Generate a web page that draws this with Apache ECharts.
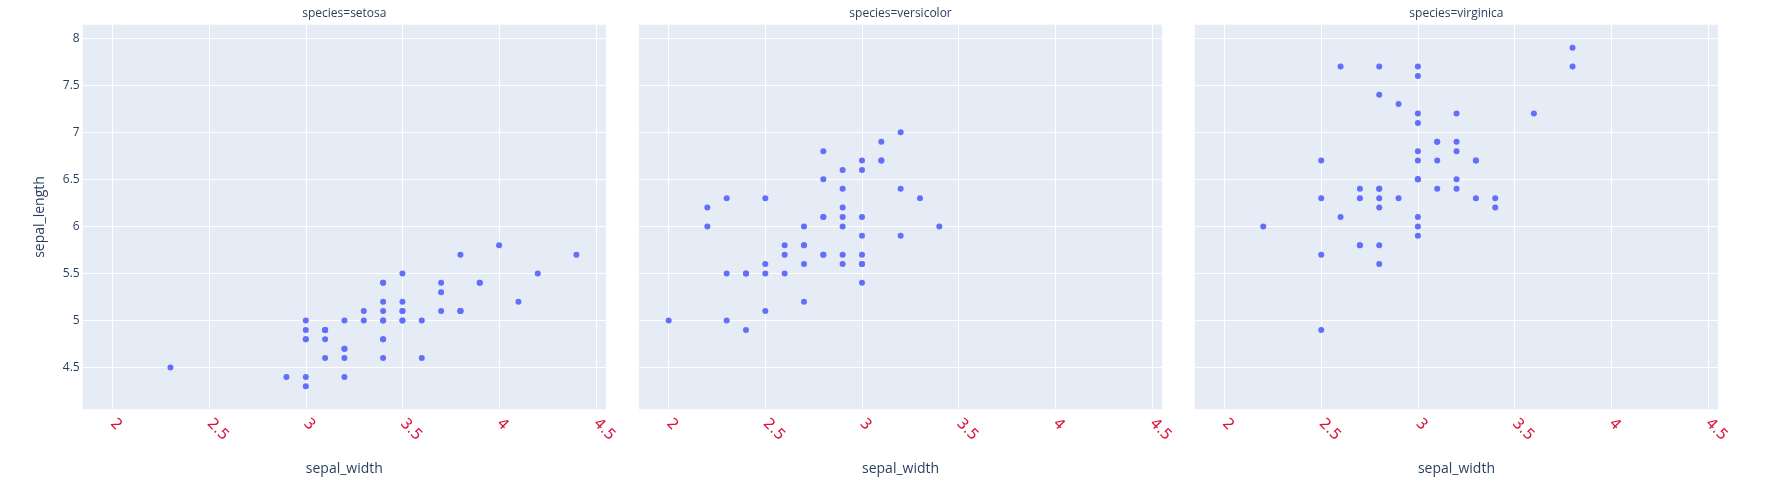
<!DOCTYPE html>
<html>
<head>
<meta charset="utf-8">
<script src="https://cdn.jsdelivr.net/npm/echarts@6/dist/echarts.min.js"></script>
<style>
html,body{margin:0;padding:0;background:#fff;}
#chart{width:1771px;height:494px;}
</style>
</head>
<body>
<div id="chart"></div>
<script>
const panelTitles = ["species=setosa", "species=versicolor", "species=virginica"];
const xTicks = [2, 2.5, 3, 3.5, 4, 4.5];
const yTicks = [4.5, 5, 5.5, 6, 6.5, 7, 7.5, 8];

const setosaWidth = [3.5,3.0,3.2,3.1,3.6,3.9,3.4,3.4,2.9,3.1,3.7,3.4,3.0,3.0,4.0,4.4,3.9,3.5,3.8,3.8,3.4,3.7,3.6,3.3,3.4,3.0,3.4,3.5,3.4,3.2,3.1,3.4,4.1,4.2,3.1,3.2,3.5,3.1,3.0,3.4,3.5,2.3,3.2,3.5,3.8,3.0,3.8,3.2,3.7,3.3];
const setosaLength = [5.1,4.9,4.7,4.6,5.0,5.4,4.6,5.0,4.4,4.9,5.4,4.8,4.8,4.3,5.8,5.7,5.4,5.1,5.7,5.1,5.4,5.1,4.6,5.1,4.8,5.0,5.0,5.2,5.2,4.7,4.8,5.4,5.2,5.5,4.9,5.0,5.5,4.9,4.4,5.1,5.0,4.5,4.4,5.0,5.1,4.8,5.1,4.6,5.3,5.0];

const versicolorWidth = [3.2,3.2,3.1,2.3,2.8,2.8,3.3,2.4,2.9,2.7,2.0,3.0,2.2,2.9,2.9,3.1,3.0,2.7,2.2,2.5,3.2,2.8,2.5,2.8,2.9,3.0,2.8,3.0,2.9,2.6,2.4,2.4,2.7,2.7,3.0,3.4,3.1,2.3,3.0,2.5,2.6,3.0,2.6,2.3,2.7,3.0,2.9,2.9,2.5,2.8];
const versicolorLength = [7.0,6.4,6.9,5.5,6.5,5.7,6.3,4.9,6.6,5.2,5.0,5.9,6.0,6.1,5.6,6.7,5.6,5.8,6.2,5.6,5.9,6.1,6.3,6.1,6.4,6.6,6.8,6.7,6.0,5.7,5.5,5.5,5.8,6.0,5.4,6.0,6.7,6.3,5.6,5.5,5.5,6.1,5.8,5.0,5.6,5.7,5.7,6.2,5.1,5.7];

const virginicaWidth = [3.3,2.7,3.0,2.9,3.0,3.0,2.5,2.9,2.5,3.6,3.2,2.7,3.0,2.5,2.8,3.2,3.0,3.8,2.6,2.2,3.2,2.8,2.8,2.7,3.3,3.2,2.8,3.0,2.8,3.0,2.8,3.8,2.8,2.8,2.6,3.0,3.4,3.1,3.0,3.1,3.1,3.1,2.7,3.2,3.3,3.0,2.5,3.0,3.4,3.0];
const virginicaLength = [6.3,5.8,7.1,6.3,6.5,7.6,4.9,7.3,6.7,7.2,6.5,6.4,6.8,5.7,5.8,6.4,6.5,7.7,7.7,6.0,6.9,5.6,7.7,6.3,6.7,7.2,6.2,6.1,6.4,7.2,7.4,7.9,6.4,6.3,6.1,7.7,6.3,6.4,6.0,6.9,6.7,6.9,5.8,6.8,6.7,6.7,6.3,6.5,6.2,5.9];

const xRange = [1.846, 4.553];
const yRange = [4.056, 8.144];

const widths = [setosaWidth, versicolorWidth, virginicaWidth];
const lengths = [setosaLength, versicolorLength, virginicaLength];

const FONT = '"Open Sans", verdana, arial, sans-serif';
const TXT = '#2a3f5f';
const panelLefts = [82.7, 638.9, 1194.8];
const panelW = 523.3;
const plotTop = 24.7, plotH = 384.6;

const grids = [], xAxes = [], yAxes = [], series = [], titles = [];
for (let i = 0; i < 3; i++) {
  grids.push({left: panelLefts[i], top: plotTop, width: panelW, height: plotH,
    show: true, backgroundColor: '#E5ECF6', borderWidth: 0, containLabel: false});
  titles.push({text: panelTitles[i], left: panelLefts[i] + panelW / 2, top: 8, textAlign: 'center', padding: 0,
    textStyle: {fontSize: 12, color: TXT, fontWeight: 'normal', fontFamily: FONT}});
  xAxes.push({type: 'value', gridIndex: i, min: xRange[0], max: xRange[1],
    name: 'sepal_width', nameLocation: 'middle', nameGap: 53,
    nameTextStyle: {fontSize: 14, color: TXT, fontFamily: FONT},
    axisLine: {show: false},
    axisTick: {show: false, customValues: xTicks},
    axisLabel: {customValues: xTicks, rotate: -45, margin: 12, fontSize: 15, color: 'crimson',
      fontFamily: 'Rockwell, "DejaVu Sans", sans-serif', formatter: v => String(v)},
    splitLine: {show: true, lineStyle: {color: '#ffffff', width: 1}}
  });
  yAxes.push({type: 'value', gridIndex: i, min: yRange[0], max: yRange[1],
    name: i === 0 ? 'sepal_length' : '', nameLocation: 'middle', nameGap: 36,
    nameTextStyle: {fontSize: 14, color: TXT, fontFamily: FONT},
    axisLine: {show: false},
    axisTick: {show: false, customValues: yTicks},
    axisLabel: {show: i === 0, customValues: yTicks, margin: 3, fontSize: 12, color: TXT, fontFamily: FONT,
      formatter: v => String(v)},
    splitLine: {show: true, lineStyle: {color: '#ffffff', width: 1}}
  });
  series.push({type: 'scatter', xAxisIndex: i, yAxisIndex: i, symbolSize: 6,
    itemStyle: {color: '#636efa', opacity: 1},
    data: widths[i].map((w, k) => [w, lengths[i][k]])});
}

const chart = echarts.init(document.getElementById('chart'), null, {renderer: 'canvas'});
chart.setOption({animation: false, backgroundColor: '#ffffff', title: titles, grid: grids, xAxis: xAxes, yAxis: yAxes, series: series});
</script>
</body>
</html>
